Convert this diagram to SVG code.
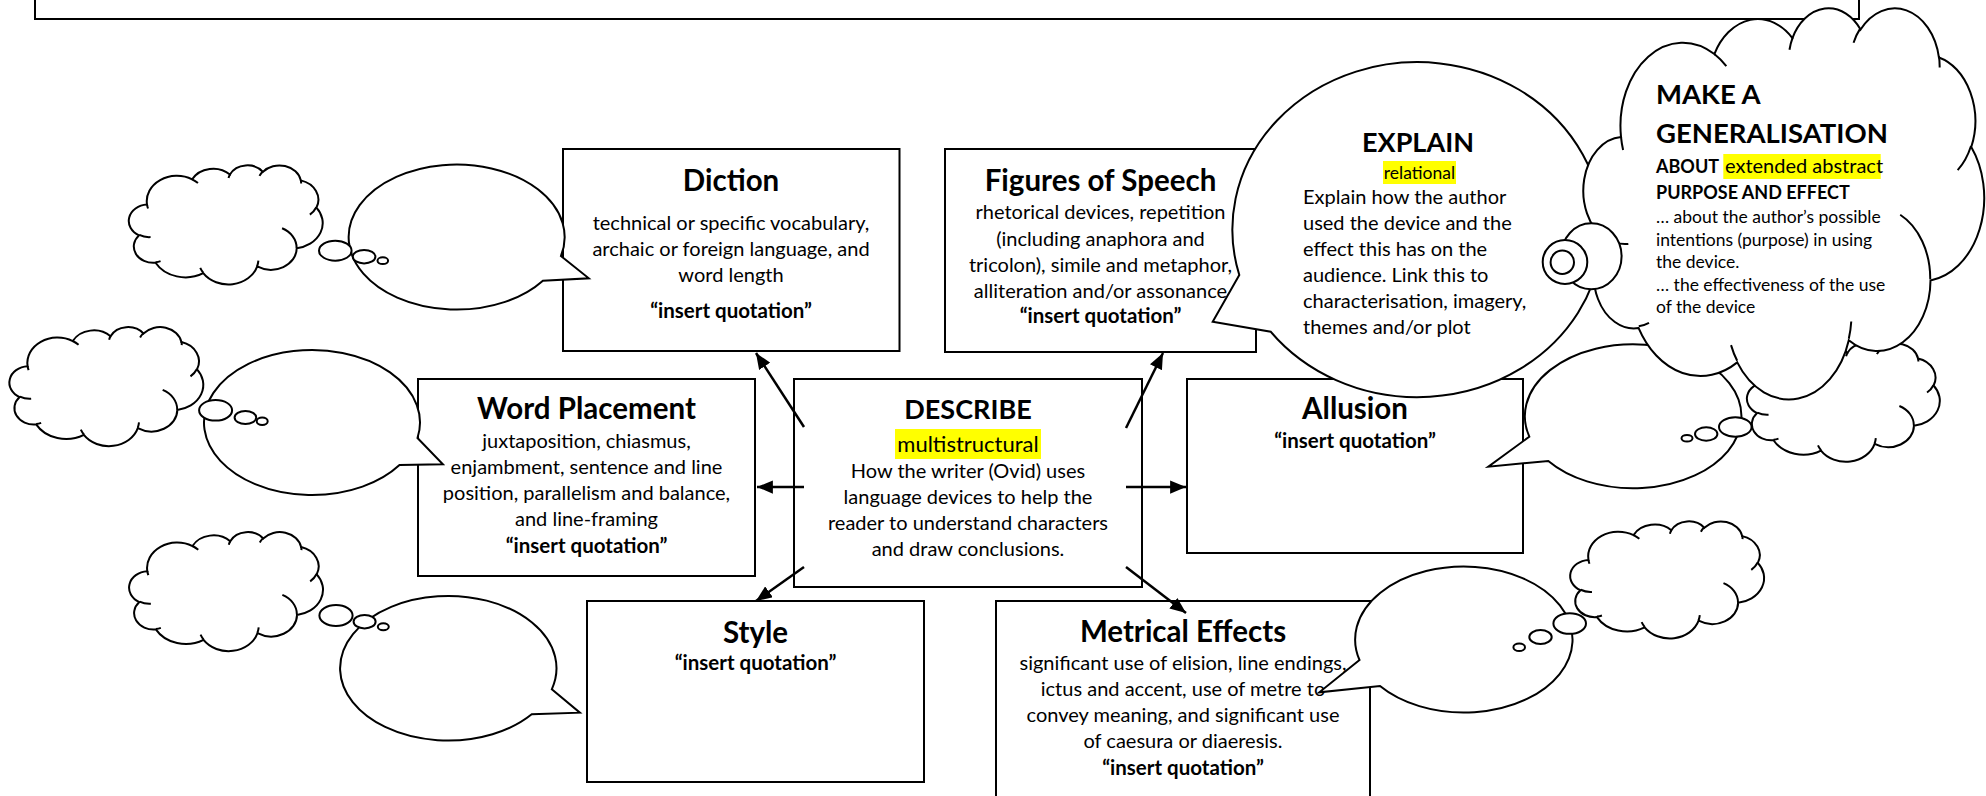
<svg xmlns="http://www.w3.org/2000/svg" width="1986" height="796" viewBox="0 0 1986 796">
<style>
.bx{fill:#fff;stroke:#000;stroke-width:2}
.sp{fill:#fff;stroke:#000;stroke-width:2;stroke-linejoin:miter}
.co{fill:#fff;stroke:#000;stroke-width:2}
.cr{fill:none;stroke:#000;stroke-width:2}
.el{fill:#fff;stroke:#000;stroke-width:2}
.ar{stroke:#000;stroke-width:2.5;fill:none;marker-end:url(#ah)}
text{font-family:Lato,"Liberation Sans",sans-serif;fill:#000}
.ti{font-size:29.5px;font-weight:bold;text-anchor:middle}
.tu{font-size:27px;font-weight:bold;text-anchor:middle}
.b{font-size:20px;text-anchor:middle}
.q{font-size:20.5px;font-weight:bold;text-anchor:middle}
.l{font-size:20px}
.s{font-size:17.5px}
.sb{font-size:18px;font-weight:bold}
.hl{fill:#ff0}
</style>
<defs>
<marker id="ah" viewBox="0 0 12 10" refX="12" refY="5" markerWidth="6.4" markerHeight="5.3" orient="auto">
<path d="M0,0 L12,5 L0,10 Z" fill="#000"/>
</marker>
<path id="cloudO" vector-effect="non-scaling-stroke" d="M 9.03 33.26 A 15.63 21.27 0 0 1 32.42 12.04 A 12.34 16.82 0 0 1 51.99 7.95 A 10.10 13.76 0 0 1 69.07 5.75 A 11.24 15.27 0 0 1 88.71 12.92 A 12.34 16.84 0 0 1 96.81 35.80 A 15.68 21.34 0 0 1 86.59 69.93 A 13.39 18.21 0 0 1 66.11 85.23 A 15.63 21.33 0 0 1 38.16 90.89 A 17.87 24.41 0 0 1 13.44 82.11 A 10.09 13.70 0 0 1 4.90 59.14 A 10.06 13.76 0 0 1 9.03 33.26 Z"/>
<path id="cloudC" vector-effect="non-scaling-stroke" d="M 10.86 60.59 A 10.06 13.76 0 0 1 5.00 58.75 M 16.04 80.78 A 10.09 13.70 0 0 1 13.47 81.67 M 38.14 90.49 A 15.63 21.33 0 0 1 36.60 86.47 M 66.73 80.44 A 15.63 21.33 0 0 1 66.11 84.86 M 79.00 53.13 A 13.39 18.21 0 0 1 86.53 69.65 M 96.75 35.54 A 12.34 16.84 0 0 1 93.40 41.74 M 88.71 12.56 A 11.24 15.27 0 0 1 88.89 15.48 M 67.31 9.15 A 11.24 15.27 0 0 1 69.03 5.41 M 51.25 10.93 A 10.10 13.76 0 0 1 52.08 7.71 M 32.41 12.02 A 15.63 21.27 0 0 1 35.42 15.14 M 9.55 36.55 A 15.63 21.27 0 0 1 9.03 33.26"/>
</defs>

<rect x="0" y="0" width="1986" height="796" fill="#fff"/>

<g id="top-box"><rect class="bx" x="35" y="-10" width="1824" height="29"/></g>

<g id="diction">
<rect class="bx" x="563" y="149" width="336.5" height="202"/>
<text class="ti" x="731" y="191">Diction</text>
<text class="b" x="731" y="230">technical or specific vocabulary,</text>
<text class="b" x="731" y="256">archaic or foreign language, and</text>
<text class="b" x="731" y="282">word length</text>
<text class="q" x="731" y="318">“insert quotation”</text>
</g>

<g id="figures">
<rect class="bx" x="945" y="149" width="311" height="203"/>
<text class="ti" x="1100.5" y="191">Figures of Speech</text>
<text class="b" x="1100.5" y="219">rhetorical devices, repetition</text>
<text class="b" x="1100.5" y="246">(including anaphora and</text>
<text class="b" x="1100.5" y="272">tricolon), simile and metaphor,</text>
<text class="b" x="1100.5" y="298">alliteration and/or assonance</text>
<text class="q" x="1100.5" y="323">“insert quotation”</text>
</g>

<g id="word-placement">
<rect class="bx" x="418" y="379" width="337" height="197"/>
<text class="ti" x="586.5" y="419">Word Placement</text>
<text class="b" x="586.5" y="448">juxtaposition, chiasmus,</text>
<text class="b" x="586.5" y="474">enjambment, sentence and line</text>
<text class="b" x="586.5" y="500">position, parallelism and balance,</text>
<text class="b" x="586.5" y="526">and line-framing</text>
<text class="q" x="586.5" y="553">“insert quotation”</text>
</g>

<g id="describe">
<rect class="bx" x="794" y="379" width="348" height="208"/>
<text class="tu" x="968" y="419">DESCRIBE</text>
<rect class="hl" x="895" y="429" width="146" height="30"/>
<text class="b" x="968" y="452" style="font-size:22px">multistructural</text>
<text class="b" x="968" y="478">How the writer (Ovid) uses</text>
<text class="b" x="968" y="504">language devices to help the</text>
<text class="b" x="968" y="530">reader to understand characters</text>
<text class="b" x="968" y="556">and draw conclusions.</text>
</g>

<g id="allusion">
<rect class="bx" x="1187" y="379" width="336" height="174"/>
<text class="ti" x="1355" y="419">Allusion</text>
<text class="q" x="1355" y="448">“insert quotation”</text>
</g>

<g id="style">
<rect class="bx" x="587" y="601" width="337" height="181"/>
<text class="ti" x="755.5" y="643">Style</text>
<text class="q" x="755.5" y="670">“insert quotation”</text>
</g>

<g id="metrical">
<rect class="bx" x="996" y="601" width="374" height="220"/>
<text class="ti" x="1183" y="642">Metrical Effects</text>
<text class="b" x="1183" y="670">significant use of elision, line endings,</text>
<text class="b" x="1183" y="696">ictus and accent, use of metre to</text>
<text class="b" x="1183" y="722">convey meaning, and significant use</text>
<text class="b" x="1183" y="748">of caesura or diaeresis.</text>
<text class="q" x="1183" y="775">“insert quotation”</text>
</g>

<g id="connectors">
<line class="ar" x1="804" y1="427" x2="756" y2="353"/>
<line class="ar" x1="1126" y1="428" x2="1163" y2="353"/>
<line class="ar" x1="804" y1="487" x2="757" y2="487"/>
<line class="ar" x1="1126" y1="487" x2="1186" y2="487"/>
<line class="ar" x1="804" y1="567" x2="756" y2="601"/>
<line class="ar" x1="1126" y1="567" x2="1186" y2="613"/>
</g>

<g id="speech-l1"><path class="sp" d="M 560.9 256 L 588.8 278.3 L 542.9 280.7 A 108 72.5 0 1 1 560.9 256 Z"/></g>
<g id="speech-l2"><path class="sp" d="M 417.5 438 L 442.9 464.3 L 399.5 465 A 108 72.5 0 1 1 417.5 438 Z"/></g>
<g id="speech-l3"><path class="sp" d="M 551.8 689.3 L 579.9 712.7 L 531.7 714.3 A 108.2 72.3 0 1 1 551.8 689.3 Z"/></g>
<g id="speech-r1"><path class="sp" d="M 1529.3 436.7 L 1488.3 466.7 L 1548.3 461 A 108.3 72 0 1 0 1529.3 436.7 Z"/></g>
<g id="speech-r2"><path class="sp" d="M 1359.5 660 L 1319.3 692.3 L 1380 686 A 108.7 73 0 1 0 1359.5 660 Z"/></g>

<g id="explain">
<path class="sp" d="M 1239.3 275 L 1212.7 321.7 L 1270.7 331.7 A 185 167.5 0 1 0 1239.3 275 Z"/>
<text class="tu" x="1418" y="152">EXPLAIN</text>
<rect class="hl" x="1383" y="161" width="73" height="23"/>
<text class="s" x="1419.5" y="179" text-anchor="middle">relational</text>
<text class="l" x="1303" y="204">Explain how the author</text>
<text class="l" x="1303" y="230">used the device and the</text>
<text class="l" x="1303" y="256">effect this has on the</text>
<text class="l" x="1303" y="282">audience. Link this to</text>
<text class="l" x="1303" y="308">characterisation, imagery,</text>
<text class="l" x="1303" y="334">themes and/or plot</text>
</g>

<g id="cloud-l1">
<g transform="translate(129.6 165) scale(1.93 1.19)"><use href="#cloudO" class="co"/><use href="#cloudC" class="cr"/></g>
<ellipse class="el" cx="335.3" cy="250.7" rx="16.3" ry="10"/>
<ellipse class="el" cx="364.1" cy="256.7" rx="11.3" ry="6.7"/>
<ellipse class="el" cx="382.8" cy="260.7" rx="5.3" ry="3.4"/>
</g>
<g id="cloud-l2">
<g transform="translate(10.2 326.7) scale(1.93 1.19)"><use href="#cloudO" class="co"/><use href="#cloudC" class="cr"/></g>
<ellipse class="el" cx="215.6" cy="410.3" rx="16.5" ry="10.3"/>
<ellipse class="el" cx="245.4" cy="417.5" rx="10.8" ry="6.6"/>
<ellipse class="el" cx="262.2" cy="421.2" rx="5.5" ry="3.7"/>
</g>
<g id="cloud-l3">
<g transform="translate(129.9 531.7) scale(1.93 1.19)"><use href="#cloudO" class="co"/><use href="#cloudC" class="cr"/></g>
<ellipse class="el" cx="336" cy="615.5" rx="16.6" ry="10.5"/>
<ellipse class="el" cx="364.6" cy="621.7" rx="11" ry="6.7"/>
<ellipse class="el" cx="383.3" cy="626.7" rx="5.5" ry="3.5"/>
</g>
<g id="cloud-r1">
<g transform="translate(1747.7 343.3) scale(1.92 1.18)"><use href="#cloudO" class="co"/><use href="#cloudC" class="cr"/></g>
<ellipse class="el" cx="1735.3" cy="427" rx="16.3" ry="9.7"/>
<ellipse class="el" cx="1706.2" cy="434" rx="11.2" ry="6.7"/>
<ellipse class="el" cx="1687" cy="438.3" rx="5.5" ry="3.3"/>
</g>
<g id="cloud-r2">
<g transform="translate(1571 521) scale(1.93 1.17)"><use href="#cloudO" class="co"/><use href="#cloudC" class="cr"/></g>
<ellipse class="el" cx="1569.7" cy="623.5" rx="16.3" ry="10.3"/>
<ellipse class="el" cx="1540.5" cy="637" rx="11.2" ry="7"/>
<ellipse class="el" cx="1519.2" cy="647.2" rx="5.8" ry="3.8"/>
</g>

<g id="generalisation">
<g transform="translate(1585 7) scale(3.99 3.91)"><use href="#cloudO" class="co"/><use href="#cloudC" class="cr"/></g>
<ellipse class="el" cx="1591.3" cy="256.3" rx="30.3" ry="33"/>
<ellipse class="el" cx="1565" cy="262" rx="22.3" ry="22"/>
<ellipse class="el" cx="1562.3" cy="262.3" rx="11.7" ry="11.7"/>
<text x="1656" y="104" style="font-size:27.5px;font-weight:bold">MAKE A</text>
<text x="1656" y="143" style="font-size:27.5px;font-weight:bold">GENERALISATION</text>
<rect class="hl" x="1723.3" y="154" width="157.4" height="25"/>
<text class="sb" x="1656" y="173">ABOUT</text>
<text class="l" x="1725" y="173">extended abstract</text>
<text class="sb" x="1656" y="199">PURPOSE AND EFFECT</text>
<text class="s" x="1656" y="223">… about the author’s possible</text>
<text class="s" x="1656" y="246">intentions (purpose) in using</text>
<text class="s" x="1656" y="268">the device.</text>
<text class="s" x="1656" y="291">… the effectiveness of the use</text>
<text class="s" x="1656" y="313">of the device</text>
</g>
</svg>
